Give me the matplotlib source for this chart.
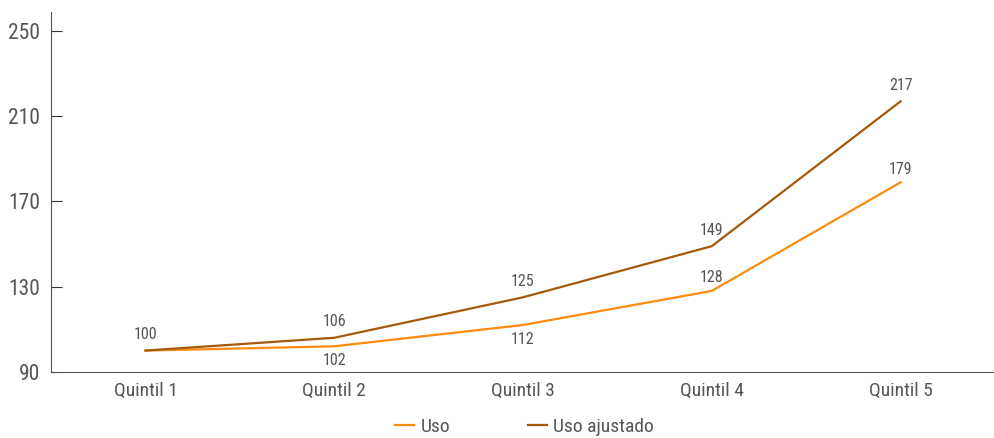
import matplotlib
matplotlib.use("Agg")
import matplotlib.pyplot as plt
from matplotlib import font_manager

categories = ["Quintil 1", "Quintil 2", "Quintil 3", "Quintil 4", "Quintil 5"]
uso = [100, 102, 112, 128, 179]
uso_ajustado = [100, 106, 125, 149, 217]
yticks = [90, 130, 170, 210, 250]

names = {f.name for f in font_manager.fontManager.ttflist}
fam = "Roboto Condensed" if "Roboto Condensed" in names else "DejaVu Sans"
plt.rcParams['font.family'] = [fam, 'DejaVu Sans']

c_uso = "#FF8A0D"
c_aj = "#A35A0C"
txt = "#555555"

fig = plt.figure(figsize=(9.95, 4.38), dpi=100)
ax = fig.add_axes([0.0513, 0.151, 0.9487, 0.822])
x = list(range(len(categories)))
l1, = ax.plot(x, uso, color=c_uso, lw=1.6, label="Uso")
l2, = ax.plot(x, uso_ajustado, color=c_aj, lw=1.6, label="Uso ajustado")

ax.set_xlim(-0.5, 4.5)
ax.set_ylim(90, 259)
ax.set_yticks(yticks)
ax.set_xticks(x)
ax.set_xticklabels(categories)
ax.tick_params(axis='y', direction='in', length=8, colors="#333333", labelcolor=txt, labelsize=15.5, pad=8)
ax.tick_params(axis='x', length=0, labelcolor=txt, labelsize=14, pad=7)
for s in ["top", "right"]:
    ax.spines[s].set_visible(False)
for s in ["left", "bottom"]:
    ax.spines[s].set_color("#555555")

# labels
for i, v in enumerate(uso_ajustado):
    ax.annotate(str(v), (i, v), xytext=(0, 6), textcoords="offset points",
                ha="center", va="bottom", fontsize=11.5, color=txt)
for i, v in enumerate(uso):
    if i == 0:
        continue
    if i in (1, 2):
        ax.annotate(str(v), (i, v), xytext=(0, -5), textcoords="offset points",
                    ha="center", va="top", fontsize=11.5, color=txt)
    else:
        ax.annotate(str(v), (i, v), xytext=(0, 4), textcoords="offset points",
                    ha="center", va="bottom", fontsize=11.5, color=txt)

fig.legend(handles=[l1, l2], loc="lower center", bbox_to_anchor=(0.527, -0.036), ncol=2,
           frameon=False, fontsize=14, handlelength=1.0, handletextpad=0.3,
           columnspacing=4.0, labelcolor=txt)

fig.savefig("out.png", dpi=100)
